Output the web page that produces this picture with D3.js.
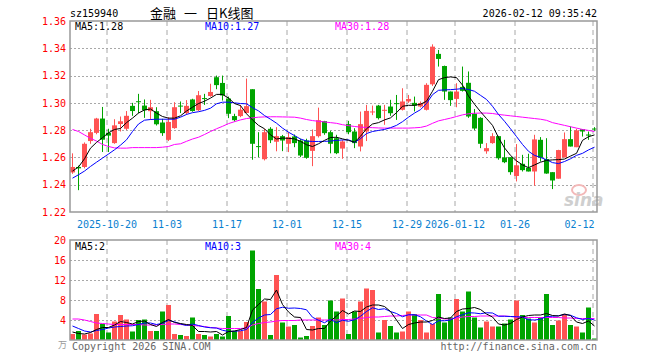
<!DOCTYPE html>
<html>
<head>
<meta charset="utf-8">
<script src="https://cdnjs.cloudflare.com/ajax/libs/d3/7.8.5/d3.min.js"></script>
<style>
  body { margin: 0; background: #fff; }
  svg { display: block; }
</style>
</head>
<body>
<svg id="chart"></svg>
<script>
const dates = [
  "2025-10-10","2025-10-13","2025-10-14","2025-10-15","2025-10-16","2025-10-17",
  "2025-10-20","2025-10-21","2025-10-22","2025-10-23","2025-10-24",
  "2025-10-27","2025-10-28","2025-10-29","2025-10-30","2025-10-31",
  "2025-11-03","2025-11-04","2025-11-05","2025-11-06","2025-11-07",
  "2025-11-10","2025-11-11","2025-11-12","2025-11-13","2025-11-14",
  "2025-11-17","2025-11-18","2025-11-19","2025-11-20","2025-11-21",
  "2025-11-24","2025-11-25","2025-11-26","2025-11-27","2025-11-28",
  "2025-12-01","2025-12-02","2025-12-03","2025-12-04","2025-12-05",
  "2025-12-08","2025-12-09","2025-12-10","2025-12-11","2025-12-12",
  "2025-12-15","2025-12-16","2025-12-17","2025-12-18","2025-12-19",
  "2025-12-22","2025-12-23","2025-12-24","2025-12-25","2025-12-26",
  "2025-12-29","2025-12-30","2025-12-31",
  "2026-01-05","2026-01-06","2026-01-07","2026-01-08","2026-01-09",
  "2026-01-12","2026-01-13","2026-01-14","2026-01-15","2026-01-16",
  "2026-01-19","2026-01-20","2026-01-21","2026-01-22","2026-01-23",
  "2026-01-26","2026-01-27","2026-01-28","2026-01-29","2026-01-30",
  "2026-02-02","2026-02-03","2026-02-04","2026-02-05","2026-02-06",
  "2026-02-09","2026-02-10","2026-02-11","2026-02-12"
];

const open = [
  1.249,1.253,1.253,1.272,1.278,1.2885,1.278,1.2705,1.2845,1.281,
  1.2978,1.3012,1.298,1.2939,1.2939,1.2856,1.2729,1.2815,1.298,1.2925,
  1.3025,1.2946,1.3035,1.305,1.3188,1.3146,1.3032,1.2903,1.2903,1.2926,
  1.310,1.2683,1.2587,1.281,1.2715,1.2756,1.270,1.2754,1.2724,1.2724,
  1.2648,1.2756,1.2866,1.2785,1.2741,1.2665,1.2844,1.279,1.268,1.279,
  1.2934,1.298,1.2945,1.2973,1.2998,1.2949,1.301,1.300,1.2973,1.2949,
  1.3136,1.3359,1.327,1.3083,1.3029,1.3117,1.3147,1.292,1.289,1.2645,
  1.2705,1.2756,1.260,1.2602,1.2464,1.2553,1.2524,1.2497,1.2729,1.2588,
  1.2492,1.2444,1.260,1.2734,1.2675,1.2807,1.2768,1.2812
];
const high = [
  1.263,1.254,1.271,1.281,1.289,1.297,1.281,1.288,1.290,1.294,
  1.300,1.3066,1.3025,1.3022,1.2968,1.2883,1.2895,1.3005,1.301,1.302,
  1.303,1.3087,1.3066,1.314,1.320,1.320,1.3046,1.292,1.2985,1.3178,
  1.310,1.2785,1.281,1.2822,1.2822,1.2765,1.2785,1.2768,1.2737,1.2737,
  1.2805,1.2965,1.2868,1.2795,1.2766,1.2727,1.2868,1.2814,1.2936,1.2985,
  1.298,1.2985,1.2985,1.3022,1.3058,1.3107,1.3058,1.3046,1.301,1.3144,
  1.3429,1.3388,1.3273,1.3083,1.3144,1.3266,1.323,1.2955,1.2895,1.2705,
  1.2778,1.2758,1.2729,1.2602,1.2698,1.2619,1.2627,1.2766,1.2749,1.2741,
  1.2492,1.2656,1.2783,1.2827,1.281,1.2807,1.279,1.2822
];
const low = [
  1.248,1.236,1.252,1.270,1.277,1.264,1.264,1.270,1.279,1.280,
  1.2905,1.2924,1.289,1.2876,1.2834,1.2758,1.272,1.281,1.2925,1.2912,
  1.2935,1.294,1.2985,1.3045,1.310,1.3017,1.2888,1.2863,1.2895,1.2924,
  1.2583,1.2602,1.2578,1.2705,1.2645,1.2646,1.2639,1.2675,1.2602,1.259,
  1.2536,1.2746,1.2766,1.263,1.2624,1.259,1.277,1.2668,1.2644,1.272,
  1.291,1.2878,1.2839,1.2905,1.2875,1.2944,1.300,1.2937,1.2966,1.2944,
  1.3124,1.3266,1.3022,1.2978,1.2968,1.3083,1.289,1.280,1.2668,1.2627,
  1.270,1.2583,1.2558,1.2473,1.2424,1.2497,1.2497,1.2392,1.257,1.248,
  1.2368,1.2444,1.260,1.268,1.2675,1.2753,1.2729,1.2795
];
const close = [
  1.253,1.252,1.270,1.2785,1.2885,1.273,1.276,1.2835,1.2865,1.2905,
  1.294,1.3005,1.2946,1.2968,1.2843,1.2778,1.286,1.2968,1.2975,1.2978,
  1.294,1.3056,1.303,1.308,1.313,1.3054,1.292,1.2873,1.295,1.2976,
  1.270,1.268,1.2785,1.2726,1.2756,1.2724,1.2749,1.2705,1.2614,1.2597,
  1.2756,1.2873,1.2778,1.270,1.2631,1.2717,1.2785,1.2705,1.2844,1.2941,
  1.2937,1.2888,1.2949,1.2924,1.2995,1.301,1.3029,1.298,1.2998,1.3132,
  1.3412,1.3322,1.3083,1.302,1.3083,1.3088,1.290,1.2812,1.270,1.2668,
  1.2756,1.2594,1.2565,1.2492,1.2542,1.2507,1.2497,1.2732,1.2598,1.2482,
  1.2431,1.2654,1.2734,1.268,1.2798,1.279,1.276,1.2808
];
const ma5 = [
  1.250,1.253,1.259,1.2668,1.271,1.2745,1.278,1.2805,1.2812,1.2855,
  1.2888,1.2925,1.2948,1.2955,1.2925,1.290,1.2888,1.2888,1.2905,1.294,
  1.2968,1.2995,1.3012,1.3035,1.3062,1.3062,1.3035,1.2995,1.298,1.292,
  1.2875,1.2835,1.281,1.2765,1.2735,1.2742,1.274,1.2736,1.2718,1.2693,
  1.268,1.270,1.2725,1.2746,1.2748,1.2736,1.2725,1.2712,1.2755,1.281,
  1.2845,1.2855,1.2875,1.289,1.2928,1.2975,1.2982,1.2982,1.299,1.3012,
  1.3085,1.317,1.3185,1.319,1.3185,1.313,1.305,1.299,1.2935,1.2885,
  1.2835,1.2745,1.267,1.2615,1.2575,1.2545,1.2525,1.2545,1.2565,1.2578,
  1.2582,1.2584,1.2588,1.261,1.263,1.2725,1.2752,1.2765
];
const ma10 = [
  1.2448,1.2473,1.250,1.2534,1.2565,1.2595,1.2625,1.2656,1.269,1.2729,
  1.279,1.2845,1.2873,1.2878,1.288,1.288,1.288,1.288,1.2895,1.2915,
  1.2928,1.2935,1.2945,1.2961,1.2993,1.3005,1.3005,1.300,1.2995,1.2993,
  1.2965,1.2941,1.2907,1.288,1.2851,1.2815,1.2785,1.276,1.2735,1.272,
  1.2717,1.2717,1.2718,1.272,1.2725,1.2728,1.2729,1.271,1.2738,1.2775,
  1.279,1.2798,1.2805,1.2818,1.2835,1.2862,1.2895,1.2925,1.295,1.2995,
  1.306,1.3092,1.3095,1.3097,1.310,1.3105,1.3098,1.3085,1.3055,1.3025,
  1.2975,1.2915,1.2865,1.281,1.2753,1.2695,1.2645,1.2615,1.260,1.2583,
  1.2562,1.2555,1.257,1.259,1.2615,1.263,1.2655,1.2675
];
const ma30 = [
  1.2805,1.279,1.2765,1.274,1.272,1.2695,1.268,1.267,1.2668,1.2668,
  1.2672,1.2672,1.2672,1.2672,1.2672,1.2675,1.268,1.2695,1.270,1.2718,
  1.2735,1.2748,1.2768,1.279,1.281,1.2828,1.2848,1.2862,1.2875,1.2885,
  1.289,1.2895,1.2897,1.2898,1.2898,1.2897,1.2896,1.2895,1.2888,1.2878,
  1.287,1.2865,1.286,1.2855,1.285,1.284,1.2833,1.2827,1.2822,1.282,
  1.2818,1.2816,1.2815,1.2815,1.2815,1.2815,1.2815,1.2817,1.282,1.283,
  1.285,1.2868,1.2878,1.2888,1.290,1.2912,1.292,1.2924,1.2925,1.2925,
  1.2922,1.2915,1.291,1.2905,1.290,1.2895,1.289,1.2885,1.288,1.2872,
  1.2855,1.2845,1.2835,1.2825,1.2815,1.2805,1.2798,1.279
];

const volume = [
  1.2,1.8,1.1,1.3,5.2,3.2,1.5,3.7,5.0,4.1,
  1.7,4.0,4.1,1.8,1.8,5.7,7.0,1.2,1.0,0.8,
  4.5,1.2,1.0,0.7,1.2,0.7,4.8,1.8,1.8,3.6,
  17.9,10.2,7.7,1.0,13.0,3.5,2.7,3.0,0.5,0.8,
  2.8,4.5,3.0,7.9,5.7,8.3,1.2,5.7,7.7,10.3,
  10.0,1.5,4.0,2.8,1.5,1.7,5.7,5.2,4.0,1.5,
  3.2,9.2,3.5,4.5,8.2,5.7,9.7,4.5,2.5,3.7,
  2.7,2.7,3.3,4.1,7.9,5.0,4.3,3.5,4.5,9.2,
  3.0,3.9,5.2,3.0,2.7,1.5,6.5,0.3
];
const volMa5 = [
  1.6,1.3,1.2,1.5,2.1,2.5,2.5,3.0,3.7,3.5,
  3.2,3.7,3.8,3.1,2.7,3.5,4.1,3.5,3.3,3.1,
  2.9,1.7,1.7,1.6,1.7,1.0,1.7,1.8,2.1,2.5,
  6.0,7.1,8.2,8.1,10.0,7.1,5.6,4.6,4.5,2.1,
  2.0,2.3,2.3,3.8,4.8,5.9,5.2,5.8,5.7,6.6,
  7.0,7.0,6.7,5.7,4.0,2.3,3.1,3.4,3.6,3.6,
  3.9,4.6,4.3,4.4,5.7,6.2,6.3,6.5,6.1,5.2,
  4.6,3.2,3.0,3.3,4.1,4.6,4.9,5.0,5.0,5.3,
  4.9,4.8,5.2,4.9,3.6,3.3,3.8,2.8
];
const volMa10 = [
  2.8,2.3,1.8,1.6,1.9,2.1,2.4,2.6,2.7,2.8,
  2.85,3.1,3.4,3.4,3.1,3.35,3.9,3.65,3.2,2.9,
  3.2,2.9,2.6,2.45,2.4,1.95,1.7,1.75,1.85,2.1,
  3.5,4.4,5.0,5.1,6.25,6.55,6.35,6.4,6.3,6.05,
  4.55,3.95,3.45,4.15,3.45,3.95,3.75,4.05,4.75,5.7,
  6.45,6.1,6.25,5.7,5.3,4.65,5.05,5.05,4.65,3.8,
  3.1,3.85,3.85,4.0,4.65,5.05,5.45,5.4,5.25,5.45,
  5.4,4.75,4.75,4.7,4.65,4.6,4.05,4.0,4.15,4.7,
  4.75,4.85,5.1,4.95,4.45,4.1,4.3,4.0
];
const volMa30 = [
  4.2,4.2,4.0,3.7,3.4,3.3,3.2,3.1,3.1,3.1,
  3.1,3.1,3.0,3.0,3.0,3.1,3.2,3.2,3.1,3.0,
  2.9,2.8,2.7,2.5,2.4,2.3,2.3,2.3,2.3,2.4,
  3.0,3.3,3.5,3.6,3.8,3.9,3.9,3.9,4.0,4.0,
  4.0,4.0,4.0,4.0,4.0,4.1,4.1,4.2,4.3,4.5,
  4.6,4.6,4.7,4.8,4.8,4.9,5.0,5.0,5.0,5.0,
  4.5,4.4,4.2,4.2,4.4,4.6,4.7,4.7,4.8,4.8,
  4.8,4.8,4.8,4.7,4.6,4.5,4.5,4.5,4.5,4.5,
  4.5,4.5,4.4,4.4,4.3,4.3,4.3,4.3
];

const priceTicks = [1.36, 1.34, 1.32, 1.30, 1.28, 1.26, 1.24, 1.22];
const volTicks = [20, 16, 12, 8, 4];
const tickDates = ["2025-10-20","2025-11-03","2025-11-17","2025-12-01","2025-12-15",
                   "2025-12-29","2026-01-12","2026-01-26","2026-02-12"];
const tickLabels = ["2025-10-20","11-03","11-17","12-01","12-15",
                    "12-29","2026-01-12","01-26","02-12"];

const width = 660, height = 360;
const left = 70, right = 597;
const pTop = 21, pBottom = 212, vTop = 240, vBottom = 340;
const RED = "#ff5353", GREEN = "#00a400", GRID = "#a8a8a8", FRAME = "#999";
const mono = "'DejaVu Sans Mono', monospace";

const svg = d3.select("#chart").attr("width", width).attr("height", height);

const x = d3.scaleBand().domain(dates).range([69.5, 597.5]);
const cx = d => x(d) + 3;
const y = d3.scaleLinear().domain([1.22, 1.36]).range([pBottom, pTop]);
const yv = d3.scaleLinear().domain([0, 20]).range([vBottom, vTop]);

const rows = dates.map((d, i) => ({
  date: d, o: open[i], h: high[i], l: low[i], c: close[i],
  v: volume[i], ma5: ma5[i], ma10: ma10[i], ma30: ma30[i],
  vma5: volMa5[i], vma10: volMa10[i], vma30: volMa30[i]
}));
const colorOf = d => (d.c >= d.o ? RED : GREEN);

// ---- grids ----
function hGrid(scale, values, top) {
  svg.append("g")
    .attr("transform", `translate(${left},0)`)
    .call(d3.axisLeft(scale).tickValues(values).tickSize(-(right - left)).tickFormat(""))
    .call(g => g.select(".domain").remove())
    .call(g => g.selectAll("line")
      .attr("stroke", GRID).attr("stroke-dasharray", "2,2")
      .attr("shape-rendering", "crispEdges"));
}
hGrid(y, priceTicks.filter(v => v > 1.221 && v < 1.359), pTop);
hGrid(yv, volTicks.filter(v => v < 20), vTop);

function vGrid(top, bottom) {
  svg.append("g").selectAll("line")
    .data(tickDates)
    .join("line")
    .attr("x1", d => x(d) + 1.5).attr("x2", d => x(d) + 1.5)
    .attr("y1", top).attr("y2", bottom)
    .attr("stroke", GRID).attr("stroke-dasharray", "5,4");
}
vGrid(pTop, pBottom);
vGrid(vTop, vBottom);

// ---- sina watermark ----
svg.append("ellipse").attr("cx", 579).attr("cy", 190).attr("rx", 7).attr("ry", 5)
  .attr("fill", "none").attr("stroke", "#f3b8b8").attr("stroke-width", 2);
svg.append("text").attr("x", 564).attr("y", 206).text("sina")
  .attr("font-family", "'DejaVu Sans', sans-serif").attr("font-style", "italic")
  .attr("font-weight", "bold").attr("font-size", 17).attr("fill", "#cfcfcf");

// ---- candles ----
const candles = svg.append("g");
candles.selectAll(".wick")
  .data(rows)
  .join("line")
  .attr("class", "wick")
  .attr("x1", d => cx(d.date)).attr("x2", d => cx(d.date))
  .attr("y1", d => y(d.h)).attr("y2", d => y(d.l))
  .attr("stroke", colorOf).attr("stroke-width", 1);
candles.selectAll(".body")
  .data(rows)
  .join("rect")
  .attr("class", "body")
  .attr("x", d => x(d.date) + 0.5)
  .attr("width", 5)
  .attr("y", d => y(Math.max(d.o, d.c)))
  .attr("height", d => Math.max(1, Math.abs(y(d.o) - y(d.c))))
  .attr("fill", colorOf);

// ---- price MAs ----
[["ma30", "#ff00ff"], ["ma10", "#0000ff"], ["ma5", "#000"]].forEach(([k, col]) => {
  svg.append("path")
    .datum(rows)
    .attr("fill", "none").attr("stroke", col).attr("stroke-width", 1)
    .attr("d", d3.line().x(d => cx(d.date)).y(d => y(d[k])));
});

// ---- volume bars ----
svg.append("g").selectAll("rect")
  .data(rows)
  .join("rect")
  .attr("x", d => x(d.date) + 0.5)
  .attr("width", 5)
  .attr("y", d => yv(d.v))
  .attr("height", d => vBottom - yv(d.v))
  .attr("fill", colorOf);

[["vma30", "#ff00ff"], ["vma10", "#0000ff"], ["vma5", "#000"]].forEach(([k, col]) => {
  svg.append("path")
    .datum(rows)
    .attr("fill", "none").attr("stroke", col).attr("stroke-width", 1)
    .attr("d", d3.line().x(d => cx(d.date)).y(d => yv(d[k])));
});

// ---- frames ----
[[pTop, pBottom], [vTop, vBottom]].forEach(([t, b]) => {
  svg.append("rect")
    .attr("x", left).attr("y", t).attr("width", right - left).attr("height", b - t)
    .attr("fill", "none").attr("stroke", FRAME).attr("stroke-width", 1.5);
});

// ---- y labels ----
function yLabels(scale, values, fmt) {
  svg.append("g")
    .attr("transform", `translate(${left},0)`)
    .call(d3.axisLeft(scale).tickValues(values).tickSize(0).tickPadding(4).tickFormat(fmt))
    .call(g => g.select(".domain").remove())
    .call(g => g.selectAll("text")
      .attr("fill", "#ff0000").attr("font-family", mono).attr("font-size", 10));
}
yLabels(y, priceTicks, d3.format(".2f"));
yLabels(yv, volTicks, d3.format("d"));

// ---- x labels ----
const xAxis = svg.append("g")
  .attr("transform", `translate(0,${pBottom})`)
  .call(d3.axisBottom(x).tickValues(tickDates).tickSize(0).tickPadding(9)
    .tickFormat(d => tickLabels[tickDates.indexOf(d)]));
xAxis.select(".domain").remove();
xAxis.selectAll("text")
  .attr("fill", "#0a7fd0").attr("font-family", mono).attr("font-size", 10)
  .attr("x", -1.5);
xAxis.selectAll(".tick").filter(d => d === "2026-02-12")
  .select("text").attr("text-anchor", "end").attr("x", 0);

// ---- header ----
const txt = (xp, yp, s, fill, opts = {}) => svg.append("text")
  .attr("x", xp).attr("y", yp).text(s)
  .attr("fill", fill).attr("font-family", opts.family || mono)
  .attr("font-size", opts.size || 10)
  .attr("text-anchor", opts.anchor || "start");

txt(70, 17, "sz159940", "#000");
const title = svg.append("text").attr("y", 18)
  .attr("font-family", "'Noto Sans CJK SC', sans-serif").attr("font-size", 13).attr("fill", "#000");
title.append("tspan").attr("x", 150).text("金融");
title.append("tspan").attr("x", 184).text("一");
title.append("tspan").attr("x", 206).text("日K线图");
txt(597, 17, "2026-02-12 09:35:42", "#000", { anchor: "end" });

txt(75, 30, "MA5:1.28", "#000");
txt(205, 30, "MA10:1.27", "#0000ff");
txt(335, 30, "MA30:1.28", "#ff00ff");

txt(75, 250, "MA5:2", "#000");
txt(205, 250, "MA10:3", "#0000ff");
txt(335, 250, "MA30:4", "#ff00ff");

txt(58, 348, "万", "#999", { family: "'Noto Sans CJK SC', sans-serif", size: 9 });
txt(72, 350, "Copyright 2026 SINA.COM", "#666");
txt(597, 350, "http://finance.sina.com.cn", "#666", { anchor: "end" });
</script>
</body>
</html>
